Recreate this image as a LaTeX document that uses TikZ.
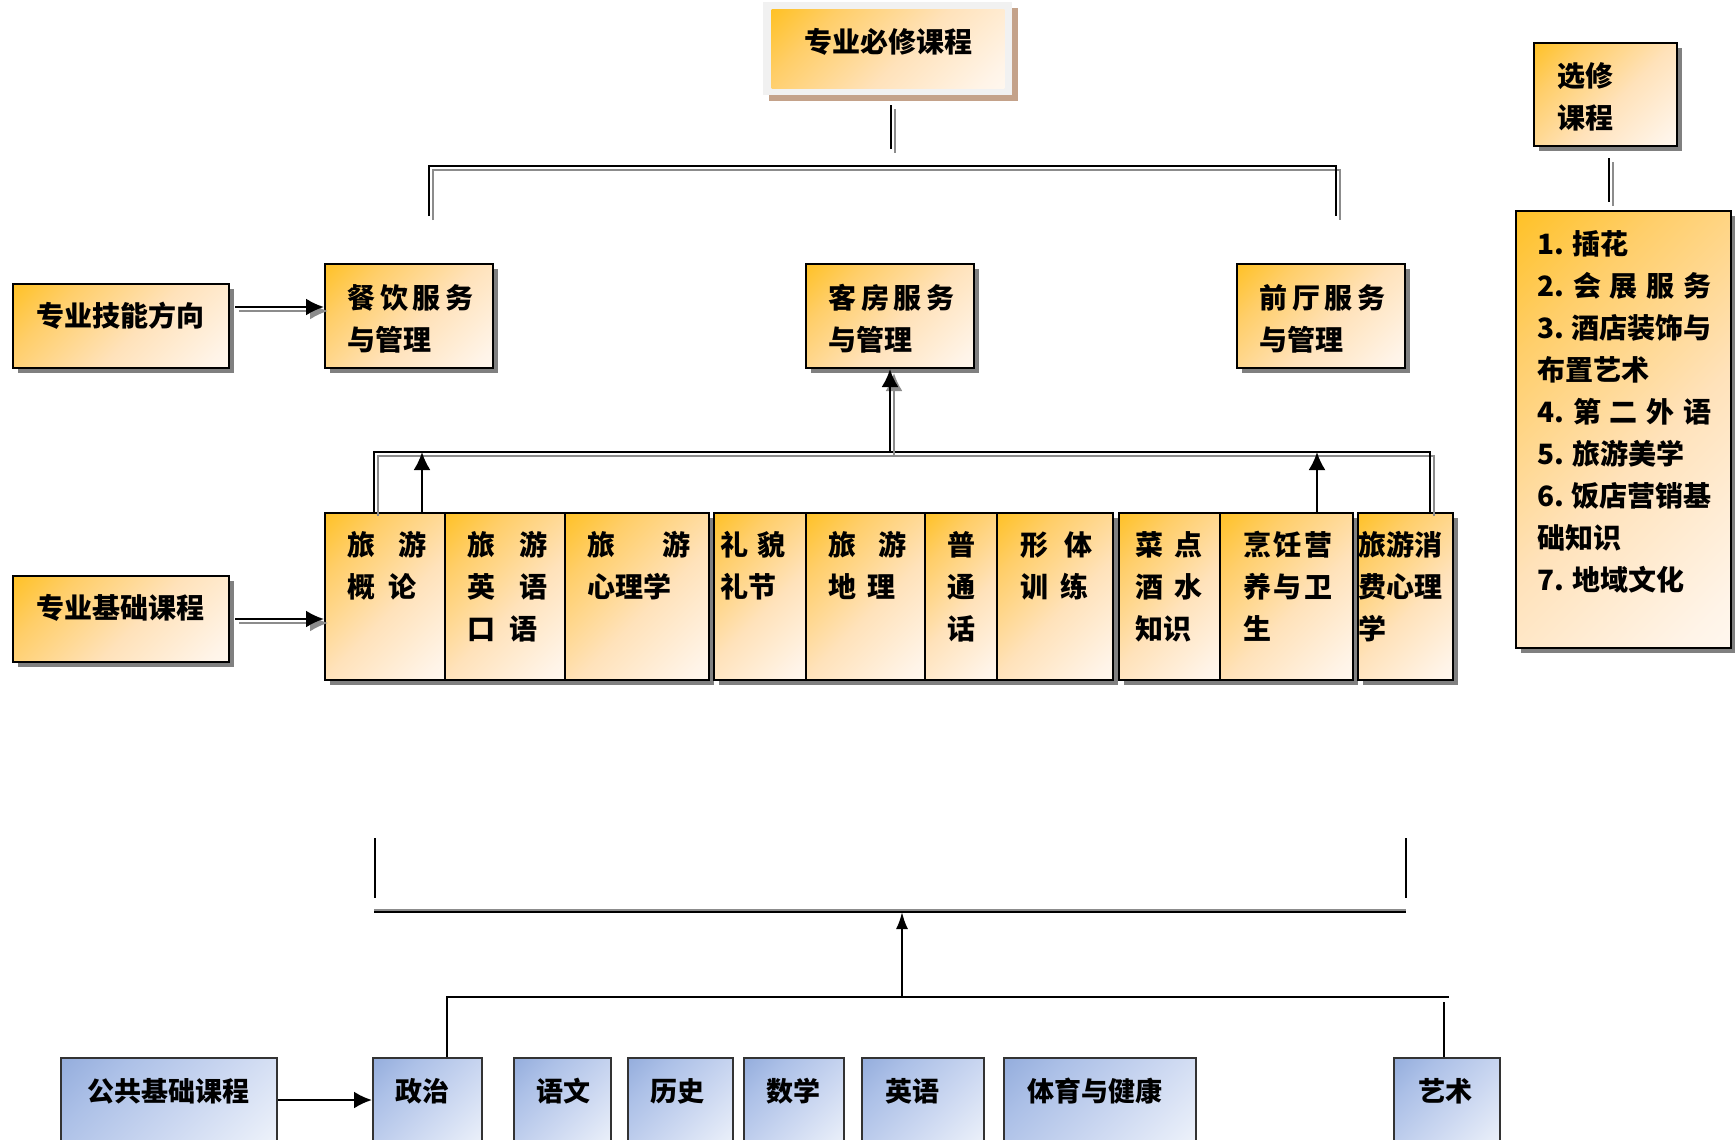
\documentclass[tikz,border=0pt]{standalone}
\usepackage{fontspec}
\newfontfamily\cjk{Noto Sans CJK SC}
\usetikzlibrary{arrows.meta,shadows}

\definecolor{gold}{RGB}{255,188,10}
\definecolor{lightgold}{RGB}{255,206,105}
\definecolor{peach}{RGB}{255,226,186}
\definecolor{cream}{RGB}{255,244,232}
\definecolor{steel}{RGB}{138,165,216}
\definecolor{lightsteel}{RGB}{172,192,231}
\definecolor{pale}{RGB}{204,216,241}
\definecolor{frost}{RGB}{236,241,250}
\definecolor{boxshadow}{RGB}{128,128,128}
\definecolor{lineshadow}{RGB}{140,140,140}
\definecolor{tanshadow}{RGB}{196,162,138}
\definecolor{framegray}{RGB}{241,241,241}

% diagonal fills: strong colour in the upper left corner, white in the lower right
\pgfdeclareverticalshading{orangefill}{100bp}{color(0bp)=(white); color(20bp)=(cream);
  color(45bp)=(peach); color(70bp)=(lightgold); color(92bp)=(gold); color(100bp)=(gold)}
\pgfdeclareverticalshading{bluefill}{100bp}{color(0bp)=(white); color(20bp)=(frost);
  color(45bp)=(pale); color(70bp)=(lightsteel); color(92bp)=(steel); color(100bp)=(steel)}

% two characters spread over a given width
\newcommand\spr[3]{\makebox[#1][s]{#2\hfill #3}}
% a connector drawn with its grey offset copy underneath
\newcommand\twin[2][]{\draw[linkshade,#1] #2; \draw[link,#1] #2;}

\tikzset{
  obox/.style={draw=black, line width=1pt, inner sep=0pt,
    shading=orangefill, shading angle=45,
    general shadow={fill=boxshadow, shadow xshift=2.5pt, shadow yshift=-2.5pt}},
  bbox/.style={draw=black!80, line width=1pt, inner sep=0pt,
    shading=bluefill, shading angle=45},
  ktxt/.style={inner sep=0pt, font=\cjk\bfseries\fontsize{14}{21}\selectfont},
  btxt/.style={inner sep=0pt, font=\cjk\bfseries\fontsize{13.5}{18}\selectfont},
  link/.style={line width=1.2pt, draw=black},
  linkshade/.style={line width=1.2pt, draw=lineshadow, transform canvas={shift={(4,4)}}},
  thin/.style={line width=1pt, draw=black},
  tipA/.style={-{Latex[length=9pt,width=8.5pt]}},
  tipB/.style={-{Latex[length=8.5pt,width=6pt]}},
}

\begin{document}
\begin{tikzpicture}[x=0.5pt,y=-0.5pt]
\clip (0,0) rectangle (1735,1140);
\fill[white] (0,0) rectangle (1735,1140);

% ---------- head box ----------
\node[fill=framegray, minimum width=124.5pt, minimum height=46.5pt, inner sep=0pt,
      general shadow={fill=tanshadow, shadow xshift=3pt, shadow yshift=-3pt}] (top) at (887.5,48.5) {};
\shade[shading=orangefill, shading angle=45]
  ([shift={(9,8)}]top.north west) rectangle ([shift={(-8,-7)}]top.south east);
\node[ktxt, anchor=base] (toptext) at (888,52) {专业必修课程};

% ---------- skill directions ----------
\node[obox, minimum width=108pt, minimum height=42pt] (skill) at (121,326) {};
\node[obox, minimum width=84pt, minimum height=52pt] (cy) at (409,316) {};
\node[obox, minimum width=84pt, minimum height=52pt] (kf) at (890,316) {};
\node[obox, minimum width=84pt, minimum height=52pt] (qt) at (1321,316) {};
\node[obox, minimum width=108pt, minimum height=43pt] (base) at (121,619) {};

\node[ktxt, anchor=base west] (skilltext) at (36,326) {专业技能方向};
\node[ktxt, anchor=base west] (basetext) at (36,618) {专业基础课程};
\node[ktxt, anchor=base west] (cytext) at (347,308)
  {\parbox[t]{100pt}{\makebox[63pt][s]{餐\hfill 饮\hfill 服\hfill 务}\\与管理}};
\node[ktxt, anchor=base west] (kftext) at (828,308)
  {\parbox[t]{100pt}{\makebox[63pt][s]{客\hfill 房\hfill 服\hfill 务}\\与管理}};
\node[ktxt, anchor=base west] (qttext) at (1259,308)
  {\parbox[t]{100pt}{\makebox[63pt][s]{前\hfill 厅\hfill 服\hfill 务}\\与管理}};

% ---------- electives ----------
\node[obox, minimum width=71.5pt, minimum height=51.5pt] (elect) at (1605.5,94.5) {};
\node[obox, minimum width=107.5pt, minimum height=218.5pt] (elist) at (1623.5,429.5) {};
\node[ktxt, anchor=base west] (electtext) at (1557,86) {\parbox[t]{60pt}{选修\\课程}};
\node[ktxt, anchor=base west] (elisttext) at (1537,254) {\parbox[t]{100pt}{%
  1. 插花\\
  \makebox[87pt][s]{2.\hfill 会\hfill 展\hfill 服\hfill 务}\\
  \makebox[87pt][s]{3.\hfill 酒店装饰与}\\
  布置艺术\\
  \makebox[87pt][s]{4.\hfill 第\hfill 二\hfill 外\hfill 语}\\
  5. 旅游美学\\
  \makebox[87pt][s]{6.\hfill 饭店营销基}\\
  础知识\\
  7. 地域文化}};

% ---------- foundation courses ----------
\node[obox, minimum width=60pt, minimum height=83.5pt] (c1) at (385,596.5) {};
\node[obox, minimum width=60pt, minimum height=83.5pt] (c2) at (505,596.5) {};
\node[obox, minimum width=72pt, minimum height=83.5pt] (c3) at (637,596.5) {};
\node[obox, minimum width=46pt, minimum height=83.5pt] (c4) at (760,596.5) {};
\node[obox, minimum width=59.5pt, minimum height=83.5pt] (c5) at (865.5,596.5) {};
\node[obox, minimum width=36pt, minimum height=83.5pt] (c6) at (961,596.5) {};
\node[obox, minimum width=58pt, minimum height=83.5pt] (c7) at (1055,596.5) {};
\node[obox, minimum width=50.5pt, minimum height=83.5pt] (c8) at (1169.5,596.5) {};
\node[obox, minimum width=66.5pt, minimum height=83.5pt] (c9) at (1286.5,596.5) {};
\node[obox, minimum width=47.5pt, minimum height=83.5pt] (c10) at (1405.5,596.5) {};

\node[ktxt, anchor=base west] (c1text) at (347,555) {\parbox[t]{60pt}{\spr{39.5pt}{旅}{游}\\\spr{34.5pt}{概}{论}}};
\node[ktxt, anchor=base west] (c2text) at (467,555) {\parbox[t]{60pt}{\spr{40pt}{旅}{游}\\\spr{40pt}{英}{语}\\\spr{35pt}{口}{语}}};
\node[ktxt, anchor=base west] (c3text) at (587,555) {\parbox[t]{60pt}{\spr{51.5pt}{旅}{游}\\心理学}};
\node[ktxt, anchor=base west] (c4text) at (720,555) {\parbox[t]{60pt}{\spr{32.5pt}{礼}{貌}\\礼节}};
\node[ktxt, anchor=base west] (c5text) at (828,555) {\parbox[t]{60pt}{\spr{39pt}{旅}{游}\\\spr{33.5pt}{地}{理}}};
\node[ktxt, anchor=base west] (c6text) at (947,555) {\parbox[t]{30pt}{普\\通\\话}};
\node[ktxt, anchor=base west] (c7text) at (1020,555) {\parbox[t]{60pt}{\spr{36pt}{形}{体}\\\spr{34pt}{训}{练}}};
\node[ktxt, anchor=base west] (c8text) at (1135,555) {\parbox[t]{60pt}{\spr{33.5pt}{菜}{点}\\\spr{33.5pt}{酒}{水}\\知识}};
\node[ktxt, anchor=base west] (c9text) at (1243,555) {\parbox[t]{60pt}{\makebox[44.5pt][s]{烹\hfill 饪\hfill 营}\\\makebox[44.5pt][s]{养\hfill 与\hfill 卫}\\生}};
\node[ktxt, anchor=base west] (c10text) at (1358,555) {\parbox[t]{60pt}{旅游消\\费心理\\学}};

% ---------- public courses ----------
\node[bbox, minimum width=108pt, minimum height=51pt] (pub) at (169,1109) {};
\node[bbox, minimum width=54.5pt, minimum height=51pt] (p1) at (427.5,1109) {};
\node[bbox, minimum width=48.5pt, minimum height=51pt] (p2) at (562.5,1109) {};
\node[bbox, minimum width=52.5pt, minimum height=51pt] (p3) at (680.5,1109) {};
\node[bbox, minimum width=50pt, minimum height=51pt] (p4) at (794,1109) {};
\node[bbox, minimum width=61pt, minimum height=51pt] (p5) at (923,1109) {};
\node[bbox, minimum width=96pt, minimum height=51pt] (p6) at (1100,1109) {};
\node[bbox, minimum width=53pt, minimum height=51pt] (p7) at (1447,1109) {};

\node[btxt, anchor=base] (pubtext) at (168,1101) {公共基础课程};
\node[btxt, anchor=base] (p1text) at (422,1101) {政治};
\node[btxt, anchor=base] (p2text) at (563,1101) {语文};
\node[btxt, anchor=base] (p3text) at (677,1101) {历史};
\node[btxt, anchor=base] (p4text) at (793,1101) {数学};
\node[btxt, anchor=base] (p5text) at (912,1101) {英语};
\node[btxt, anchor=base] (p6text) at (1095,1101) {体育与健康};
\node[btxt, anchor=base] (p7text) at (1445,1101) {艺术};

% ---------- connectors: upper part ----------
\coordinate (stemT) at (891,105);
\coordinate (stemB) at (891,149);
\coordinate (barL) at (429,166);
\coordinate (barR) at (1336,166);
\coordinate (dropL) at (429,216);
\coordinate (dropR) at (1336,216);
\twin{(stemT) -- (stemB)}
\twin{(dropL) -- (barL) -- (barR) -- (dropR)}

\coordinate (eT) at (1609,158);
\coordinate (eB) at (1609,202);
\twin{(eT) -- (eB)}

\coordinate (a1) at (235,307);
\twin[tipA]{(a1) -- (a1 -| cy.west)}
\coordinate (a2) at (235,619);
\twin[tipA]{(a2) -- (a2 -| c1.west)}

\coordinate (brL) at (374,452);
\coordinate (brR) at (1430,452);
\twin{(brL |- c1.north) -- (brL) -- (brR) -- (brR |- c10.north)}
\twin[tipA]{(kf.south |- brL) -- (kf.south)}

\path ([xshift=18.5pt]c1.north) coordinate (u1);
\path ([xshift=15.25pt]c9.north) coordinate (u9);
\draw[link, tipA] (u1) -- (u1 |- brL);
\draw[link, tipA] (u9) -- (u9 |- brL);

% ---------- connectors: lower part ----------
\coordinate (kL) at (375,838);
\coordinate (kLb) at (375,898);
\coordinate (kR) at (1406,838);
\coordinate (kRb) at (1406,898);
\draw[thin] (kL) -- (kLb);
\draw[thin] (kR) -- (kRb);
\coordinate (hL) at (374,912);
\coordinate (hR) at (1406,912);
\draw[line width=1pt, draw=lineshadow] ([yshift=1pt]hL) -- ([yshift=1pt]hR);
\draw[link] (hL) -- (hR);
\coordinate (upB) at (902,997);
\draw[thin, tipB] (upB) -- (upB |- hL);
\coordinate (lowL) at (447,997);
\coordinate (lowR) at (1449,997);
\draw[link] (lowL |- p1.north) -- (lowL) -- (lowR);
\coordinate (artT) at (1444,1002);
\draw[thin] (artT) -- (artT |- p7.north);
\coordinate (a3) at (278,1100);
\draw[link, tipA] (a3) -- (a3 -| p1.west);
\end{tikzpicture}
\end{document}
